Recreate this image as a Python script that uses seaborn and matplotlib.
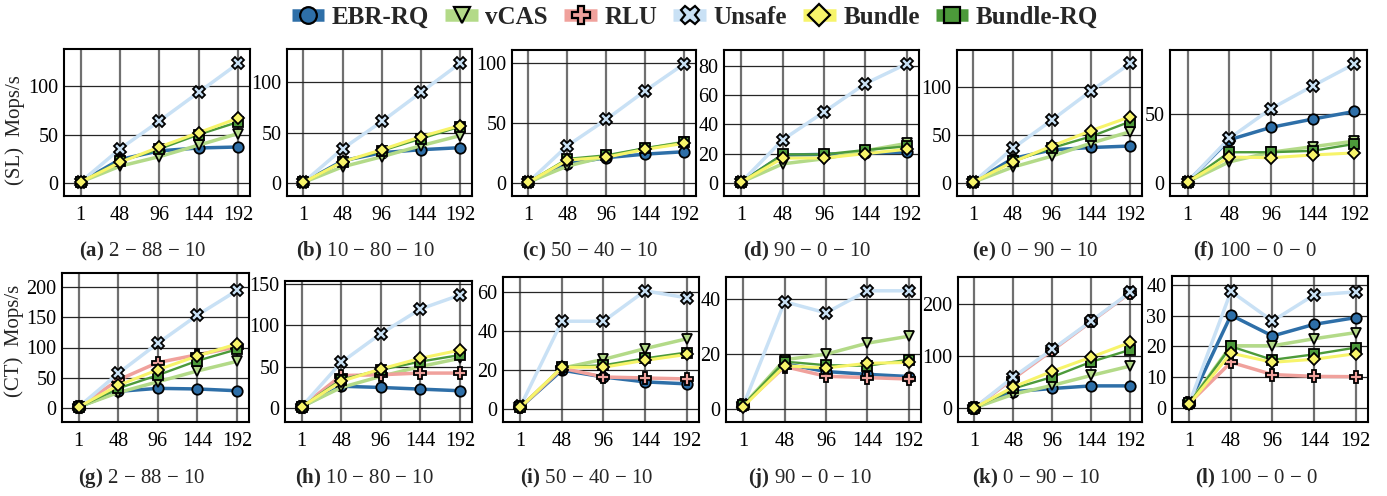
import numpy as np
import pandas as pd
import matplotlib
matplotlib.use("Agg")
import matplotlib.pyplot as plt
import seaborn as sns
from matplotlib.lines import Line2D

# ---------------- data ----------------
threads = ["1", "48", "96", "144", "192"]
series = ["EBR-RQ", "vCAS", "RLU", "Unsafe", "Bundle", "Bundle-RQ"]

sl_a = {"EBR-RQ": [0.5, 24, 33, 36, 37], "vCAS": [0.5, 17, 27, 39, 51],
        "Unsafe": [0.5, 35, 64, 94, 124], "Bundle": [0.5, 21, 37, 52, 67],
        "Bundle-RQ": [0.5, 22, 35, 50, 63]}
sl_b = {"EBR-RQ": [0.5, 22, 30, 33, 35], "vCAS": [0.5, 16, 26, 37, 47],
        "Unsafe": [0.5, 34, 61, 90, 119], "Bundle": [0.5, 21, 33, 46, 57],
        "Bundle-RQ": [0.5, 21, 32, 44, 56]}
sl_c = {"EBR-RQ": [0.5, 16, 21, 24, 26], "vCAS": [0.5, 14, 22, 28.5, 34],
        "Unsafe": [0.5, 31, 53, 77, 99.5], "Bundle": [0.5, 19, 21.5, 28, 33],
        "Bundle-RQ": [0.5, 20, 23, 29, 34]}
sl_d = {"EBR-RQ": [0.5, 19, 19.5, 20.5, 21], "vCAS": [0.5, 13, 16.5, 22, 27],
        "Unsafe": [0.5, 29.5, 48.5, 68, 81.5], "Bundle": [0.5, 17, 17, 20, 23],
        "Bundle-RQ": [0.5, 19.5, 19.5, 22.5, 25]}
sl_e = {"EBR-RQ": [0.5, 25, 34, 36.5, 38], "vCAS": [0.5, 16, 27.5, 41, 53],
        "Unsafe": [0.5, 35.5, 65, 95.5, 124], "Bundle": [0.5, 21.5, 38, 54, 68.5],
        "Bundle-RQ": [0.5, 22, 36, 48, 63.5]}
sl_f = {"EBR-RQ": [0.5, 31, 40, 46, 51.5], "vCAS": [0.5, 15, 22, 26, 30],
        "Unsafe": [0.5, 32, 53.5, 70, 86], "Bundle": [0.5, 18.5, 18, 20, 21.5],
        "Bundle-RQ": [0.5, 22, 22, 23, 28]}

ct_g = {"EBR-RQ": [1, 27, 32, 31, 28], "vCAS": [1, 25, 43, 61, 77],
        "RLU": [1, 46, 75, 88, 101], "Unsafe": [1, 57, 107, 154, 195],
        "Bundle": [1, 37, 63, 86, 106], "Bundle-RQ": [1, 32, 54, 78, 97]}
ct_h = {"EBR-RQ": [1, 26, 24.5, 22.5, 20.5], "vCAS": [1, 24.5, 38, 50, 60],
        "RLU": [1, 39, 40, 42, 42], "Unsafe": [1, 55, 90, 120, 137],
        "Bundle": [1, 32, 47, 60, 70], "Bundle-RQ": [1, 34, 46, 56, 64]}
ct_i = {"EBR-RQ": [1, 20, 16.5, 14, 13], "vCAS": [1, 21, 25.5, 31, 36],
        "RLU": [1, 21, 16.5, 16, 15.5], "Unsafe": [1.5, 45, 45, 60.5, 57],
        "Bundle": [1, 21.5, 21.5, 25, 28], "Bundle-RQ": [1, 21.5, 22.5, 26, 29]}
ct_j = {"EBR-RQ": [1.5, 16.5, 13.7, 12.7, 11.9], "vCAS": [1.5, 18, 20, 24, 26.5],
        "RLU": [1.5, 15.5, 12, 11.5, 11], "Unsafe": [1.5, 39, 35, 43, 43],
        "Bundle": [1, 15.8, 15, 16.7, 17], "Bundle-RQ": [1.5, 17.3, 16, 15.8, 18]}
ct_k = {"EBR-RQ": [1, 32, 38, 43, 43], "vCAS": [1, 27, 44, 63, 81],
        "RLU": [1, 57, 111, 166, 221], "Unsafe": [1, 60, 113, 167, 222],
        "Bundle": [1, 41, 71, 98, 126], "Bundle-RQ": [1, 38, 60, 89, 112]}
ct_l = {"EBR-RQ": [1.5, 30.2, 23.4, 27.2, 29.4], "vCAS": [1.5, 20.2, 20.2, 22.5, 24.5],
        "RLU": [1.5, 14.8, 10.8, 10.2, 10.1], "Unsafe": [1.5, 38, 28.3, 36.8, 37.8],
        "Bundle": [1.2, 17.8, 14.8, 15.8, 17.6], "Bundle-RQ": [1.5, 20, 15.6, 17.4, 19.6]}

panel_data = [sl_a, sl_b, sl_c, sl_d, sl_e, sl_f, ct_g, ct_h, ct_i, ct_j, ct_k, ct_l]
panel_letters = ["a", "b", "c", "d", "e", "f", "g", "h", "i", "j", "k", "l"]
workloads = ["2 − 88 − 10", "10 − 80 − 10", "50 − 40 − 10", "90 − 0 − 10",
             "0 − 90 − 10", "100 − 0 − 0"] * 2
yticks_list = [[0, 50, 100], [0, 50, 100], [0, 50, 100], [0, 20, 40, 60, 80],
               [0, 50, 100], [0, 50],
               [0, 50, 100, 150, 200], [0, 50, 100, 150], [0, 20, 40, 60],
               [0, 20, 40], [0, 100, 200], [0, 10, 20, 30, 40]]
ylims = [(-14, 139), (-13, 133), (-11, 111), (-9, 91), (-14, 138), (-9.7, 96),
         (-24, 224), (-17.5, 154), (-6.5, 67.6), (-4.6, 48), (-26, 251), (-4.7, 43)]

# ---------------- style ----------------
colors = {"EBR-RQ": "#2e6fa8", "vCAS": "#b3da88", "RLU": "#f0a19c",
          "Unsafe": "#c9e1f5", "Bundle": "#f7f46a", "Bundle-RQ": "#4c9a3a"}
markers = {"EBR-RQ": "o", "vCAS": "v", "RLU": "P", "Unsafe": "X",
           "Bundle": "D", "Bundle-RQ": "s"}
msizes = {"EBR-RQ": 7.5, "vCAS": 7, "RLU": 8.5, "Unsafe": 8.5, "Bundle": 6.5, "Bundle-RQ": 7}
lwidths = {"EBR-RQ": 2.5, "vCAS": 2.5, "RLU": 2.5, "Unsafe": 2.5, "Bundle": 2.2, "Bundle-RQ": 1.7}
leg_msizes = {"EBR-RQ": 12, "vCAS": 12, "RLU": 13, "Unsafe": 13, "Bundle": 11, "Bundle-RQ": 12}
draw_order = ["EBR-RQ", "vCAS", "RLU", "Unsafe", "Bundle-RQ", "Bundle"]

sns.set_theme(style="white")
plt.rcParams["font.family"] = ["Liberation Serif", "DejaVu Serif"]
plt.rcParams["mathtext.fontset"] = "custom"
plt.rcParams["mathtext.rm"] = "Liberation Serif"
plt.rcParams["mathtext.bf"] = "Liberation Serif:bold"

W, H = 1387, 496
fig = plt.figure(figsize=(W / 100, H / 100), dpi=100)

# panel boxes in pixels: (left, top, right, bottom)
boxes = [(64, 49, 250, 196), (287, 49, 472, 196), (512, 50, 696, 196),
         (724, 50, 919, 196), (957, 50, 1142, 196), (1170, 50, 1367, 196),
         (62, 273, 249, 422), (285, 281, 472, 422), (503, 277, 699, 422),
         (726, 277, 921, 422), (958, 277, 1142, 422), (1172, 276, 1368, 422)]

xpos = np.arange(len(threads))
for idx, (data, box) in enumerate(zip(panel_data, boxes)):
    l, t, r, b = box
    ax = fig.add_axes([l / W, 1 - b / H, (r - l) / W, (b - t) / H])
    for s in draw_order:
        if s not in data:
            continue
        df = pd.DataFrame({"x": xpos, "y": data[s]})
        sns.lineplot(data=df, x="x", y="y", ax=ax, color=colors[s], marker=markers[s],
                     markersize=msizes[s], markeredgecolor="black", markeredgewidth=1.3,
                     linewidth=lwidths[s], sort=False, legend=False)
    ax.set_xlim(-0.42, 4.3)
    ax.set_ylim(*ylims[idx])
    ax.set_xticks(xpos)
    ax.set_xticklabels(threads)
    ax.set_yticks(yticks_list[idx])
    ax.set_xlabel("")
    ax.set_ylabel("")
    ax.grid(True, axis="x", color="#707070", linewidth=1.6)
    ax.grid(True, axis="y", color="#262626", linewidth=0.9)
    ax.set_axisbelow(True)
    ax.tick_params(axis="both", length=0, labelsize=14.5, pad=4, colors="black")
    ax.tick_params(axis="x", pad=7)
    for sp in ax.spines.values():
        sp.set_color("black")
        sp.set_linewidth(1.5)
    # caption
    cx = (l + r) / 2 - 14
    cy = 251 if idx < 6 else 478
    fig.text(cx / W, 1 - cy / H,
             r"$\mathbf{(" + panel_letters[idx] + r")}$ " + workloads[idx],
             ha="center", va="center", fontsize=15)

fig.text(15 / W, 1 - 130 / H, "(SL)  Mops/s", rotation=90, ha="center", va="center", fontsize=15)
fig.text(14 / W, 1 - 341 / H, "(CT)  Mops/s", rotation=90, ha="center", va="center", fontsize=15)

handles = [Line2D([0], [0], color=colors[s], lw=9, solid_capstyle="butt", marker=markers[s],
                  markersize=leg_msizes[s], markeredgecolor="black", markeredgewidth=1.6)
           for s in series]
fig.legend(handles, series, loc="center", bbox_to_anchor=(695 / W, 1 - 17 / H), ncol=6,
           frameon=False, handlelength=1.3, handletextpad=0.3, columnspacing=0.65,
           borderaxespad=0, borderpad=0, prop={"weight": "bold", "size": 18})

fig.savefig("out.png", dpi=100)
